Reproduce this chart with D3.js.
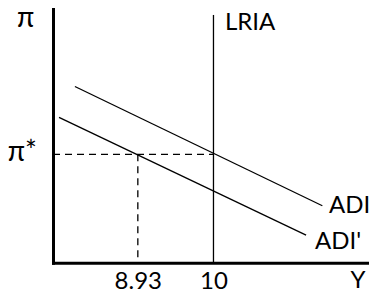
<html>
<head>
<meta charset="utf-8">
<script src="https://cdn.jsdelivr.net/npm/d3@7"></script>
<style>
body { margin: 0; background: #fff; }
text { font-family: Lato, "Open Sans", sans-serif; font-size: 24px; fill: #000; }
.pi { font-size: 28px; }
.curve { stroke: #000; stroke-width: 1.3px; fill: none; }
.guide { stroke: #000; stroke-width: 1.3px; stroke-dasharray: 7,5; fill: none; }
</style>
</head>
<body>
<script>
// chart values
var outputTicks = [8.93, 10];
var outputTickLabels = ["8.93", "10"];
var piStar = 2;
var piStarLabel = "π*";
var lriaOutput = 10;
var lriaTop = 4.57;
var adiLine = [[8.04, 3.25], [11.54, 1.05]];
var adiPrimeLine = [[7.815, 2.68], [11.31, 0.51]];

var width = 369, height = 296;

var x = d3.scaleLinear().domain([7.73, 12.2]).range([53, 369]);
var y = d3.scaleLinear().domain([0, 4.68]).range([262.7, 9]);

var svg = d3.select("body").append("svg")
    .attr("width", width)
    .attr("height", height);

// dashed guides
svg.append("line").attr("class", "guide")
    .attr("x1", x.range()[0]).attr("x2", x(lriaOutput))
    .attr("y1", y(piStar)).attr("y2", y(piStar));
svg.append("line").attr("class", "guide")
    .attr("x1", x(outputTicks[0])).attr("x2", x(outputTicks[0]))
    .attr("y1", y(piStar)).attr("y2", y(0));

// LRIA
svg.append("line").attr("class", "curve")
    .attr("x1", x(lriaOutput)).attr("x2", x(lriaOutput))
    .attr("y1", y(lriaTop)).attr("y2", y(0));

var line = d3.line().x(function(d) { return x(d[0]); }).y(function(d) { return y(d[1]); });
svg.append("path").attr("class", "curve").attr("d", line(adiLine));
svg.append("path").attr("class", "curve").attr("d", line(adiPrimeLine));

// axes
var xAxis = svg.append("g")
    .attr("transform", "translate(0," + y(0) + ")")
    .call(d3.axisBottom(x).tickValues(outputTicks).tickSize(0).tickPadding(9)
        .tickFormat(function(d, i) { return outputTickLabels[i]; }));
var yAxis = svg.append("g")
    .attr("transform", "translate(" + x.range()[0] + ",0)")
    .call(d3.axisLeft(y).tickValues([piStar]).tickSize(0).tickPadding(16)
        .tickFormat(function() { return piStarLabel; }));

svg.selectAll(".domain").attr("stroke", "#000").attr("stroke-width", 3).attr("stroke-linecap", "square");
svg.selectAll(".tick text").attr("font-family", null).attr("font-size", null);
yAxis.select(".tick text").attr("class", "pi").attr("dy", "0.22em");

// labels
svg.append("text").attr("class", "pi").attr("x", 25.5).attr("y", 27).attr("text-anchor", "middle").text("π");
svg.append("text").attr("x", 358).attr("y", 288).attr("text-anchor", "middle").text("Y");
svg.append("text").attr("x", 225).attr("y", 30).text("LRIA");
svg.append("text").attr("x", 329).attr("y", 213).text("ADI");
svg.append("text").attr("x", 315).attr("y", 249).text("ADI'");
</script>
</body>
</html>
